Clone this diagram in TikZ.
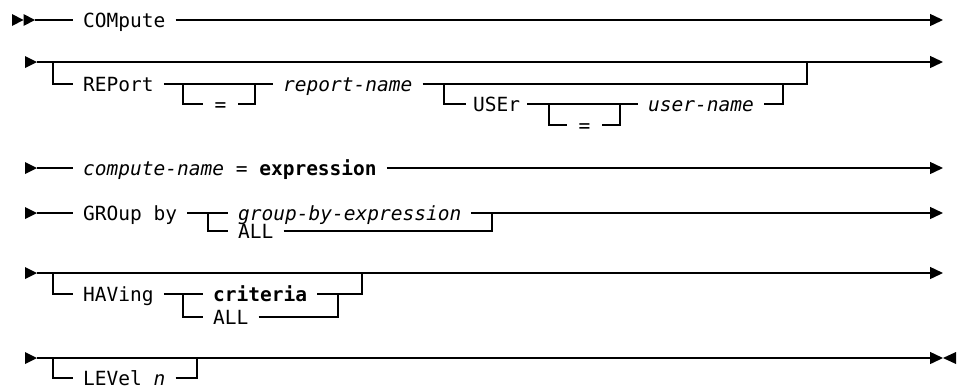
\documentclass[tikz,border=0pt]{standalone}
\usepackage{fontspec}
\setmainfont{DejaVu Sans Mono}
\usetikzlibrary{arrows.meta}
\begin{document}
\begin{tikzpicture}[x=1pt,y=-1pt,
  rail/.style={line width=1.4pt},
  goes/.style={rail,-{Triangle[length=13pt,width=12pt]}},
  kw/.style={anchor=west,inner xsep=10pt,inner ysep=0pt,
    text height=14.2pt,text depth=0pt,font=\fontsize{19.5}{20}\selectfont},
  eqsign/.style={kw,inner xsep=11.5pt},
  headtip/.style={fill=black},
]
\useasboundingbox (0,0) rectangle (957,389);

% --- statement start: COMpute
\fill[headtip] (12,14) -- (23.5,20) -- (12,26) -- cycle;
\fill[headtip] (23.5,14) -- (35,20) -- (23.5,26) -- cycle;
\coordinate (s1) at (35,20);
\coordinate (e1) at (943,20);
\node[kw] (compute) at (73,20) {COMpute};
\draw[rail] (s1) -- (compute.west);
\draw[goes] (compute.east) -- (e1);

% --- optional REPort / USEr clause
\fill[headtip] (25,56) -- (37,62) -- (25,68) -- cycle;
\coordinate (s2) at (37,62);
\coordinate (e2) at (943,62);
\draw[goes] (s2) -- (e2);
\coordinate (rb) at (53,62);
\node[kw] (report) at (73,84) {REPort};
\draw[rail] (rb) |- (report.west);
\coordinate (q1a) at (183,84);
\coordinate (q1b) at (255,84);
\node[eqsign] (eq1) at (203,104) {=};
\draw[rail] (q1a) |- (eq1.west);
\draw[rail] (eq1.east) -| (q1b);
\node[kw] (rname) at (273,84) {\itshape report-name};
\draw[rail] (report.east) -- (rname.west);
\coordinate (rj) at (807,62);
\draw[rail] (rname.east) -| (rj);
\coordinate (ub) at (444,84);
\node[kw,inner xsep=7pt] (user) at (466,104) {USEr};
\draw[rail] (ub) |- (user.west);
\coordinate (q2a) at (549,104);
\coordinate (q2b) at (620,104);
\node[eqsign] (eq2) at (567,125) {=};
\draw[rail] (q2a) |- (eq2.west);
\draw[rail] (eq2.east) -| (q2b);
\node[kw] (uname) at (638,104) {\itshape user-name};
\draw[rail] (user.east) -- (uname.west);
\coordinate (uj) at (783,84);
\draw[rail] (uname.east) -| (uj);

% --- compute-name = expression
\fill[headtip] (25,162) -- (37,168) -- (25,174) -- cycle;
\coordinate (s3) at (37,168);
\coordinate (e3) at (943,168);
\node[kw] (assign) at (73,168) {\textit{compute-name} = \textbf{expression}};
\draw[rail] (s3) -- (assign.west);
\draw[goes] (assign.east) -- (e3);

% --- GROup by
\fill[headtip] (25,207) -- (37,213) -- (25,219) -- cycle;
\coordinate (s4) at (37,213);
\coordinate (e4) at (943,213);
\node[kw] (group) at (73,213) {GROup by};
\draw[rail] (s4) -- (group.west);
\node[kw] (gbe) at (228,213) {\itshape group-by-expression};
\draw[rail] (group.east) -- (gbe.west);
\coordinate (gb) at (208,213);
\node[kw] (all1) at (228,231) {ALL};
\draw[rail] (gb) |- (all1.west);
\coordinate (gj) at (492,213);
\draw[rail] (all1.east) -| (gj);
\draw[goes] (gbe.east) -- (e4);

% --- optional HAVing
\fill[headtip] (25,267) -- (37,273) -- (25,279) -- cycle;
\coordinate (s5) at (37,273);
\coordinate (e5) at (943,273);
\draw[goes] (s5) -- (e5);
\coordinate (hb) at (53,273);
\node[kw] (having) at (73,294) {HAVing};
\draw[rail] (hb) |- (having.west);
\node[kw] (crit) at (203,294) {\bfseries criteria};
\draw[rail] (having.east) -- (crit.west);
\coordinate (cb) at (183,294);
\node[kw] (all2) at (203,317) {ALL};
\draw[rail] (cb) |- (all2.west);
\coordinate (cj) at (338,294);
\draw[rail] (all2.east) -| (cj);
\coordinate (hj) at (362,273);
\draw[rail] (crit.east) -| (hj);

% --- optional LEVel and statement end
\fill[headtip] (25,352) -- (37,358) -- (25,364) -- cycle;
\coordinate (s6) at (37,358);
\coordinate (e6) at (943,358);
\draw[goes] (s6) -- (e6);
\fill[headtip] (956,352) -- (943,358) -- (956,364) -- cycle;
\coordinate (lb) at (53,358);
\node[kw] (level) at (73,378) {LEVel \textit{n}};
\draw[rail] (lb) |- (level.west);
\coordinate (lj) at (197,358);
\draw[rail] (level.east) -| (lj);
\end{tikzpicture}
\end{document}
